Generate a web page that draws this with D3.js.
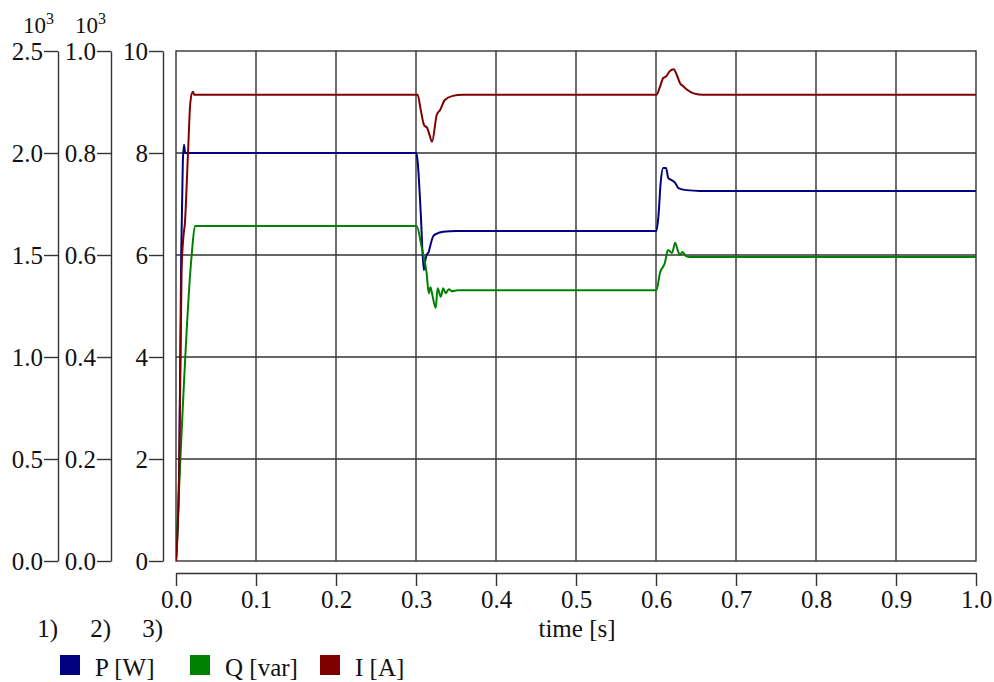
<!DOCTYPE html>
<html>
<head>
<meta charset="utf-8">
<script src="https://cdn.jsdelivr.net/npm/d3@7"></script>
<style>
  body { margin: 0; background: #fff; }
  svg text { font-family: "Liberation Serif", "Times New Roman", serif; fill: #111; }
</style>
</head>
<body>
<div id="viz"></div>
<script>
// dimensions of the svg
const width = 994
const height = 682

// plot area
const plot = {left: 176, right: 976, top: 51, bottom: 561}
const fontSize = 25
const serif = "'Liberation Serif', 'Times New Roman', serif"

// P [W], read on axis 1) (x10^3)
const pTime = [0, 0.004, 0.0065, 0.0085, 0.010, 0.0115, 0.3005, 0.302, 0.306, 0.3097, 0.3115, 0.3133, 0.316, 0.3175, 0.3217, 0.326, 0.334, 0.35,
               0.6005, 0.603, 0.6058, 0.609, 0.6125, 0.6154, 0.6196, 0.624, 0.628, 0.638, 0.655, 1.0]
const pValues = [0, 450, 1500, 1950, 2040, 2000, 2000, 1960, 1700, 1426, 1470, 1500, 1516, 1540, 1593, 1605, 1614, 1618,
                 1618, 1688, 1853, 1926, 1926, 1877, 1867, 1853, 1828, 1818, 1814, 1814]

// Q [var], read on axis 2) (x10^3)
const qTime = [0, 0.0196, 0.0237, 0.3008, 0.307, 0.3133, 0.316, 0.318, 0.320, 0.3246, 0.327, 0.331, 0.334, 0.337, 0.341, 0.345, 0.352,
               0.6005, 0.605, 0.611, 0.615, 0.620, 0.624, 0.627, 0.630, 0.633, 0.6375, 0.6425, 1.0]
const qValues = [0, 600, 657, 657, 616, 564, 525, 537, 525, 496, 535, 518, 535, 525, 533, 529, 531,
                 531, 565, 584, 610, 604, 624, 610, 600, 606, 598, 596, 596]

// I [A], read on axis 3)
const iTime = [0, 0.004, 0.007, 0.0095, 0.011, 0.015, 0.018, 0.021, 0.023, 0.302, 0.306, 0.310, 0.314, 0.317, 0.320, 0.326, 0.330, 0.336, 0.346, 0.358,
               0.6005, 0.605, 0.609, 0.6125, 0.617, 0.622, 0.626, 0.630, 0.634, 0.639, 0.647, 0.659, 1.0]
const iValues = [0, 1.8, 5.7, 6.4, 6.6, 8.0, 9.0, 9.2, 9.14, 9.14, 8.84, 8.55, 8.49, 8.35, 8.22, 8.75, 8.84, 9.04, 9.12, 9.14,
                 9.14, 9.3, 9.47, 9.5, 9.6, 9.64, 9.53, 9.37, 9.31, 9.24, 9.17, 9.14, 9.14]

// axes
const timeTicks = [0, 0.1, 0.2, 0.3, 0.4, 0.5, 0.6, 0.7, 0.8, 0.9, 1.0]
const axis1Ticks = [0, 500, 1000, 1500, 2000, 2500]
const axis2Ticks = [0, 200, 400, 600, 800, 1000]
const axis3Ticks = [0, 2, 4, 6, 8, 10]
const axisNames = ["1)", "2)", "3)"]

// legend
const seriesNames = ["P [W]", "Q [var]", "I [A]"]
const seriesColors = ["#000080", "#008000", "#800000"]

const ink = "#333"

var svg = d3.select("#viz")
        .append("svg")
        .attr("width", width)
        .attr("height", height)
        .style("font-family", serif)

// scales
const x = d3.scaleLinear().domain([0, 1]).range([plot.left, plot.right])
const y1 = d3.scaleLinear().domain([0, 2500]).range([plot.bottom, plot.top])
const y2 = d3.scaleLinear().domain([0, 1000]).range([plot.bottom, plot.top])
const y3 = d3.scaleLinear().domain([0, 10]).range([plot.bottom, plot.top])

// grid
const grid = svg.append("g").attr("stroke", ink).attr("stroke-width", 1.4)
grid.selectAll(".vgrid")
    .data(timeTicks.slice(1, -1))
    .enter()
    .append("line")
    .attr("x1", d => x(d)).attr("x2", d => x(d))
    .attr("y1", plot.top).attr("y2", plot.bottom)
grid.selectAll(".hgrid")
    .data(axis3Ticks.slice(1, -1))
    .enter()
    .append("line")
    .attr("x1", plot.left).attr("x2", plot.right)
    .attr("y1", d => y3(d)).attr("y2", d => y3(d))
grid.append("rect")
    .attr("x", plot.left).attr("y", plot.top)
    .attr("width", plot.right - plot.left)
    .attr("height", plot.bottom - plot.top)
    .attr("fill", "none")

// y axes
function styleAxis(g) {
    g.attr("font-family", serif).attr("font-size", fontSize)
    g.selectAll("path, line").attr("stroke", ink).attr("stroke-width", 1.4)
    g.selectAll("text")
        .attr("fill", "#111")
        .style("font-family", serif)
        .style("font-size", fontSize + "px")
}

const yAxes = [
    {pos: 58, scale: y1, ticks: axis1Ticks, fmt: d => d3.format(".1f")(d / 1000)},
    {pos: 111, scale: y2, ticks: axis2Ticks, fmt: d => d3.format(".1f")(d / 1000)},
    {pos: 163, scale: y3, ticks: axis3Ticks, fmt: d => d}
]
yAxes.forEach(function(a) {
    svg.append("g")
        .attr("transform", "translate(" + a.pos + ",0)")
        .call(d3.axisLeft(a.scale).tickValues(a.ticks).tickFormat(a.fmt)
              .tickSize(14).tickSizeOuter(0).tickPadding(1))
        .call(styleAxis)
})

// x axis, detached below the plot
svg.append("g")
    .attr("transform", "translate(0,573)")
    .call(d3.axisBottom(x).tickValues(timeTicks).tickFormat(d3.format(".1f"))
          .tickSize(13).tickSizeOuter(0).tickPadding(4))
    .call(styleAxis)

// 10^3 multipliers
;[{x: 23}, {x: 75}].forEach(function(m) {
    const t = svg.append("text")
        .attr("x", m.x).attr("y", 33)
        .style("font-size", "23px")
    t.append("tspan").text("10")
    t.append("tspan").attr("dy", -9).style("font-size", "16px").text("3")
})

// axis numbers
svg.selectAll(".axisname")
    .data(axisNames)
    .enter()
    .append("text")
    .attr("x", (d, i) => yAxes[i].pos)
    .attr("y", 637)
    .attr("text-anchor", "end")
    .style("font-size", fontSize + "px")
    .text(d => d)

// x label
svg.append("text")
    .attr("x", 577)
    .attr("y", 637)
    .attr("text-anchor", "middle")
    .style("font-size", fontSize + "px")
    .text("time [s]")

// series
const series = [
    {time: pTime, values: pValues, scale: y1},
    {time: qTime, values: qValues, scale: y2},
    {time: iTime, values: iValues, scale: y3}
]
const clip = svg.append("clipPath").attr("id", "plotclip")
clip.append("rect")
    .attr("x", plot.left).attr("y", plot.top - 2)
    .attr("width", plot.right - plot.left).attr("height", plot.bottom - plot.top + 2)

series.forEach(function(s, k) {
    const line = d3.line()
        .curve(d3.curveMonotoneX)
        .x(i => x(s.time[i]))
        .y(i => s.scale(s.values[i]))
    svg.append("path")
        .attr("clip-path", "url(#plotclip)")
        .attr("d", line(d3.range(s.time.length)))
        .attr("fill", "none")
        .attr("stroke", seriesColors[k])
        .attr("stroke-width", 2)
        .attr("stroke-linejoin", "round")
})

// legend
const legendX = [60, 190, 320]
const legend = svg.selectAll(".legend")
    .data(seriesNames)
    .enter()
    .append("g")
    .attr("transform", (d, i) => "translate(" + legendX[i] + ",655)")
legend.append("rect")
    .attr("width", 20).attr("height", 20)
    .attr("fill", (d, i) => seriesColors[i])
legend.append("text")
    .attr("x", 35).attr("y", 21)
    .style("font-size", fontSize + "px")
    .text(d => d)
</script>
</body>
</html>
